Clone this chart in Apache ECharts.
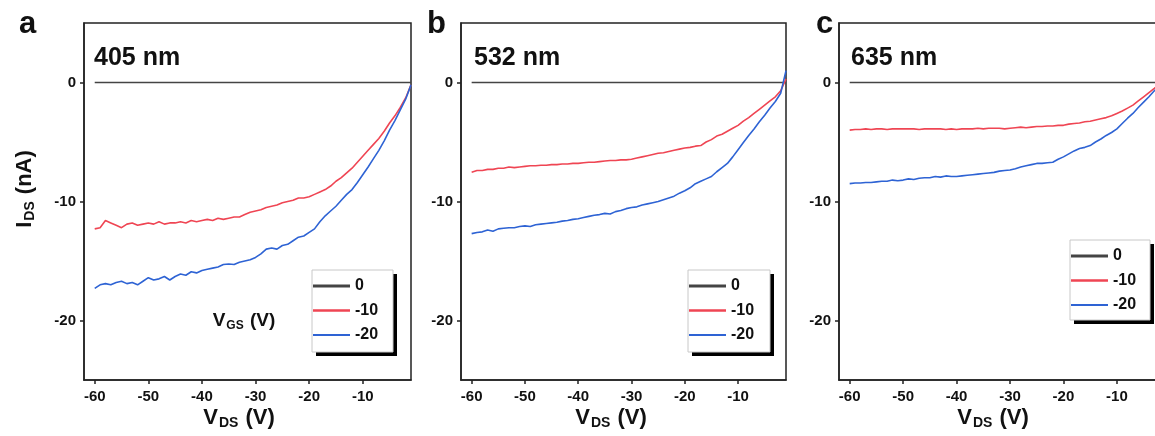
<!DOCTYPE html>
<html>
<head>
<meta charset="utf-8">
<script src="https://cdn.jsdelivr.net/npm/echarts@6/dist/echarts.min.js"></script>
<style>html,body{margin:0;padding:0;background:#fff}#c{width:1155px;height:436px}</style>
</head>
<body>
<div id="c"></div>
<script>
const vds = [-60,-59,-58,-57,-56,-55,-54,-53,-52,-51,-50,-49,-48,-47,-46,-45,-44,-43,-42,-41,-40,-39,-38,-37,-36,-35,-34,-33,-32,-31,-30,-29,-28,-27,-26,-25,-24,-23,-22,-21,-20,-19,-18,-17,-16,-15,-14,-13,-12,-11,-10,-9,-8,-7,-6,-5,-4,-3,-2,-1];
const zeroX = [-60, -1];
const zeroY = [0, 0];
const a_m10 = [-12.3,-12.2,-11.6,-11.8,-12.0,-12.2,-11.9,-11.8,-12.0,-11.9,-11.8,-11.9,-11.7,-11.9,-11.8,-11.8,-11.7,-11.8,-11.6,-11.7,-11.6,-11.5,-11.6,-11.4,-11.5,-11.4,-11.3,-11.3,-11.1,-10.9,-10.8,-10.7,-10.5,-10.4,-10.3,-10.1,-10.0,-9.9,-9.7,-9.7,-9.6,-9.4,-9.2,-9.0,-8.7,-8.3,-8.0,-7.6,-7.2,-6.7,-6.2,-5.7,-5.2,-4.7,-4.1,-3.4,-2.8,-2.1,-1.3,-0.2];
const a_m20 = [-17.3,-17.0,-16.9,-17.0,-16.8,-16.7,-16.9,-16.8,-17.0,-16.7,-16.4,-16.6,-16.5,-16.3,-16.6,-16.3,-16.1,-16.2,-15.9,-16.0,-15.8,-15.7,-15.6,-15.5,-15.3,-15.25,-15.3,-15.1,-15.0,-14.9,-14.7,-14.4,-14.0,-13.9,-14.0,-13.7,-13.6,-13.3,-13.0,-12.9,-12.6,-12.3,-11.7,-11.2,-10.8,-10.4,-9.9,-9.4,-9.0,-8.4,-7.75,-7.1,-6.4,-5.7,-4.9,-4.0,-3.2,-2.3,-1.4,-0.2];
const b_m10 = [-7.55,-7.4,-7.4,-7.3,-7.3,-7.2,-7.2,-7.1,-7.15,-7.1,-7.05,-7.0,-7.0,-6.95,-6.95,-6.9,-6.9,-6.85,-6.85,-6.8,-6.8,-6.75,-6.7,-6.7,-6.65,-6.6,-6.55,-6.55,-6.5,-6.5,-6.45,-6.35,-6.25,-6.15,-6.05,-5.95,-5.9,-5.8,-5.7,-5.6,-5.5,-5.45,-5.35,-5.3,-5.0,-4.8,-4.5,-4.35,-4.1,-3.85,-3.6,-3.25,-2.95,-2.6,-2.25,-1.9,-1.55,-1.2,-0.7,0.3];
const b_m20 = [-12.7,-12.6,-12.55,-12.4,-12.5,-12.3,-12.25,-12.2,-12.2,-12.1,-12.05,-12.1,-11.95,-11.9,-11.85,-11.8,-11.75,-11.65,-11.6,-11.5,-11.45,-11.35,-11.25,-11.15,-11.1,-11.0,-11.05,-10.85,-10.75,-10.6,-10.5,-10.45,-10.3,-10.2,-10.1,-10.0,-9.85,-9.7,-9.55,-9.3,-9.1,-8.85,-8.5,-8.3,-8.1,-7.9,-7.5,-7.15,-6.8,-6.25,-5.65,-5.05,-4.45,-3.9,-3.3,-2.75,-2.15,-1.6,-0.9,1.0];
const c_m10 = [-4.0,-3.95,-3.95,-3.9,-3.95,-3.9,-3.9,-3.95,-3.9,-3.9,-3.9,-3.9,-3.9,-3.95,-3.9,-3.9,-3.9,-3.9,-3.95,-3.9,-3.95,-3.9,-3.9,-3.9,-3.85,-3.9,-3.85,-3.85,-3.85,-3.9,-3.85,-3.8,-3.75,-3.8,-3.75,-3.7,-3.7,-3.65,-3.65,-3.6,-3.6,-3.5,-3.45,-3.4,-3.3,-3.25,-3.15,-3.05,-2.95,-2.8,-2.6,-2.4,-2.15,-1.9,-1.55,-1.2,-0.85,-0.5,-0.1,0.2];
const c_m20 = [-8.5,-8.45,-8.45,-8.4,-8.4,-8.35,-8.3,-8.3,-8.2,-8.25,-8.2,-8.1,-8.15,-8.05,-8.0,-8.0,-7.9,-7.95,-7.85,-7.9,-7.9,-7.85,-7.8,-7.75,-7.7,-7.65,-7.6,-7.55,-7.45,-7.4,-7.35,-7.25,-7.1,-7.0,-6.9,-6.8,-6.8,-6.75,-6.7,-6.45,-6.25,-6.0,-5.75,-5.55,-5.45,-5.3,-5.0,-4.75,-4.45,-4.2,-3.9,-3.45,-3.0,-2.6,-2.1,-1.65,-1.2,-0.7,-0.25,0.2];
const xTicks = [-60,-50,-40,-30,-20,-10];
const yTicks = [0,-10,-20];
const wavelengths = ['405 nm','532 nm','635 nm'];
const panelLetters = ['a','b','c'];
const vgsNames = ['0','-10','-20'];

const panels = [[a_m10, a_m20],[b_m10, b_m20],[c_m10, c_m20]];
const gridPos = [{left:84,width:327},{left:461,width:325},{left:839,width:326}];
const legendBox = [{x:312,y:270,w:81,h:82},{x:688,y:270,w:82,h:82},{x:1070,y:240,w:80,h:80}];
const titleLeft = [94,474,851];
const letterLeft = [19,427,816];
const xNameCenter = [239,611,993];
const FONT = 'Arial, "Liberation Sans", sans-serif';
const colors = {'0':'#444444','-10':'#ef4553','-20':'#2e63d4'};
const legendIcon = {'0':'path://M0,0 H37 V3 H0 Z','-10':'path://M0,0 H37 V2.4 H0 Z','-20':'path://M0,0 H37 V2.2 H0 Z'};

const pair = (xs, ys) => xs.map((x,i)=>[x, ys[i]]);
const subRich = (big, small, pad) => ({
  v:{fontSize:big,fontWeight:'bold',fill:'#111',color:'#111',fontFamily:FONT},
  s:{fontSize:small,fontWeight:'bold',fill:'#111',color:'#111',fontFamily:FONT,padding:[pad,1,0,1]}
});

const grids=[], xAxes=[], yAxes=[], series=[], legends=[], titles=[], graphics=[];
panels.forEach((p, i) => {
  grids.push({left:gridPos[i].left, width:gridPos[i].width, top:23, height:357, show:true, borderColor:'#222', borderWidth:1.5, backgroundColor:'#fff', containLabel:false, outerBoundsMode:'none'});
  xAxes.push({gridIndex:i, type:'value', min:-62, max:-1,
    axisLine:{show:true, onZero:false, lineStyle:{color:'#222', width:1.5}},
    axisTick:{show:true, customValues:xTicks, length:4, inside:false, lineStyle:{color:'#222', width:1.5}},
    axisLabel:{customValues:xTicks, margin:9, fontSize:15, fontWeight:'bold', color:'#111', fontFamily:FONT},
    splitLine:{show:false}
  });
  yAxes.push({gridIndex:i, type:'value', min:-25, max:5,
    axisLine:{show:true, onZero:false, lineStyle:{color:'#222', width:1.5}},
    axisTick:{show:true, customValues:yTicks, length:4, inside:false, lineStyle:{color:'#222', width:1.5}},
    axisLabel:{customValues:yTicks, margin:8, fontSize:15, fontWeight:'bold', color:'#111', fontFamily:FONT},
    splitLine:{show:false}
  });
  series.push({name:'0', type:'line', xAxisIndex:i, yAxisIndex:i, data:pair(zeroX, zeroY), symbol:'none', lineStyle:{color:colors['0'], width:1.4}, itemStyle:{color:colors['0']}, z:3});
  series.push({name:'-10', type:'line', xAxisIndex:i, yAxisIndex:i, data:pair(vds, p[0]), symbol:'none', lineStyle:{color:colors['-10'], width:1.6}, itemStyle:{color:colors['-10']}, z:4});
  series.push({name:'-20', type:'line', xAxisIndex:i, yAxisIndex:i, data:pair(vds, p[1]), symbol:'none', lineStyle:{color:colors['-20'], width:1.6}, itemStyle:{color:colors['-20']}, z:5});
  const b = legendBox[i];
  graphics.push({type:'rect', z:50, shape:{x:b.x+4, y:b.y+4, width:b.w, height:b.h}, style:{fill:'#000'}});
  graphics.push({type:'rect', z:51, shape:{x:b.x, y:b.y, width:b.w, height:b.h}, style:{fill:'#fff', stroke:'#c8c8c8', lineWidth:1}});
  legends.push({left:b.x+1, top:b.y+8, orient:'vertical', selectedMode:false, z:60,
    data:vgsNames.map(n=>({name:n, icon:legendIcon[n], itemStyle:{color:colors[n], borderWidth:0}})),
    itemWidth:37, itemHeight:14, itemGap:8.5, itemTextGap:10, padding:0, symbolKeepAspect:true,
    backgroundColor:'transparent', borderWidth:0,
    textStyle:{fontSize:16, fontWeight:'bold', color:'#111', fontFamily:FONT, lineHeight:14}
  });
  titles.push({text:wavelengths[i], left:titleLeft[i], top:46, padding:0, textStyle:{fontSize:25, fontWeight:'bold', color:'#111', fontFamily:FONT}});
  titles.push({text:panelLetters[i], left:letterLeft[i], top:9, padding:0, textStyle:{fontSize:31, fontWeight:'bold', color:'#111', fontFamily:FONT}});
  graphics.push({type:'text', z:40, style:{x:xNameCenter[i], y:418, text:'{v|V}{s|DS}{v| (V)}', align:'center', verticalAlign:'middle', rich:subRich(22,14,11)}});
});
graphics.push({type:'text', z:40, x:25, y:189, rotation:Math.PI/2, style:{x:0, y:0, text:'{v|I}{s|DS}{v| (nA)}', align:'center', verticalAlign:'middle', rich:subRich(22,14,11)}});
graphics.push({type:'text', z:40, style:{x:244, y:321, text:'{v|V}{s|GS}{v| (V)}', align:'center', verticalAlign:'middle', rich:subRich(19,12,10)}});

const chart = echarts.init(document.getElementById('c'), null, {renderer:'canvas'});
chart.setOption({
  animation:false,
  backgroundColor:'#fff',
  title:titles, grid:grids, xAxis:xAxes, yAxis:yAxes, legend:legends, series:series, graphic:graphics
});
</script>
</body>
</html>
